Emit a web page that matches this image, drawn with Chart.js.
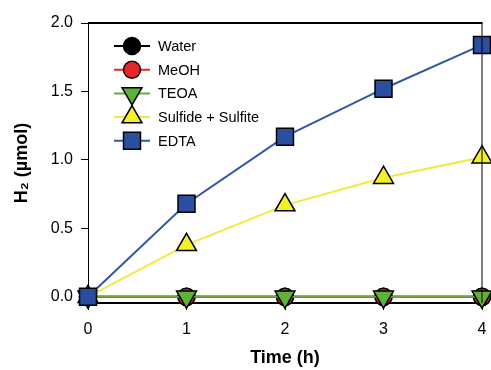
<!DOCTYPE html>
<html>
<head>
<meta charset="utf-8">
<script src="https://cdn.jsdelivr.net/npm/chart.js@4.4.0/dist/chart.umd.min.js"></script>
<style>
    html, body { margin: 0; padding: 0; background: #fff; }
    #wrap { width: 491px; height: 370px; }
</style>
</head>
<body>
<div id="wrap"><canvas id="h2Chart" width="491" height="370"></canvas></div>
<script>
// Data
const hours = [0, 1, 2, 3, 4];
const water = [0, 0, 0, 0, 0];
const meoh = [0, 0, 0, 0, 0];
const teoa = [0, 0, 0, 0, 0];
const sulfide = [0, 0.38, 0.67, 0.87, 1.02];
const edta = [0, 0.68, 1.17, 1.52, 1.84];
const seriesNames = ['Water', 'MeOH', 'TEOA', 'Sulfide + Sulfite', 'EDTA'];
const yTicks = [0, 0.5, 1.0, 1.5, 2.0];

function toPoints(values) {
    return hours.map((h, i) => ({ x: h, y: values[i] }));
}

function makeSet(label, values, lineColor, fill, style, radius, rotation, order) {
    return {
        label: label,
        data: toPoints(values),
        borderColor: lineColor,
        backgroundColor: fill,
        borderWidth: 2,
        pointStyle: style,
        pointRadius: radius,
        pointRotation: rotation,
        pointBackgroundColor: fill,
        pointBorderColor: '#000',
        pointBorderWidth: 1.5,
        tension: 0,
        clip: false,
        order: order
    };
}

const datasets = [
    makeSet(seriesNames[0], water, '#000000', '#000000', 'circle', 8.5, 0, 5),
    makeSet(seriesNames[1], meoh, '#e8262a', '#e8262a', 'circle', 8.5, 0, 4),
    makeSet(seriesNames[2], teoa, '#6aa83a', '#5cb338', 'triangle', 11.5, 180, 3),
    makeSet(seriesNames[3], sulfide, '#f2ea3c', '#f5ef2a', 'triangle', 11.5, 0, 2),
    makeSet(seriesNames[4], edta, '#3456a8', '#2b4ea0', 'rect', 12, 0, 1)
];

// Legend drawn inside the plot area, top left
const insideLegend = {
    id: 'insideLegend',
    afterDatasetsDraw(chart) {
        const ctx = chart.ctx;
        const area = chart.chartArea;
        ctx.save();
        chart.data.datasets.forEach((ds, i) => {
            const y = area.top + 23 + i * 23.7;
            const x0 = area.left + 26;
            const x1 = area.left + 62;
            ctx.strokeStyle = ds.borderColor;
            ctx.lineWidth = 2;
            ctx.beginPath();
            ctx.moveTo(x0, y);
            ctx.lineTo(x1, y);
            ctx.stroke();
            ctx.fillStyle = ds.pointBackgroundColor;
            ctx.strokeStyle = '#000';
            ctx.lineWidth = ds.pointBorderWidth;
            Chart.helpers.drawPoint(ctx, {
                pointStyle: ds.pointStyle,
                rotation: ds.pointRotation,
                radius: ds.pointRadius,
                borderWidth: ds.pointBorderWidth
            }, (x0 + x1) / 2, y);
            ctx.fillStyle = '#000';
            ctx.font = '14.5px "Liberation Sans", Arial, sans-serif';
            ctx.textBaseline = 'middle';
            ctx.textAlign = 'left';
            ctx.fillText(ds.label, area.left + 70, y + 1);
        });
        ctx.restore();
    }
};

// Top and right frame lines (drawn over the markers, like the original)
const frame = {
    id: 'frame',
    afterDatasetsDraw(chart) {
        const ctx = chart.ctx;
        const a = chart.chartArea;
        ctx.save();
        ctx.strokeStyle = '#000';
        ctx.lineWidth = 2;
        ctx.beginPath();
        ctx.moveTo(a.left, a.top);
        ctx.lineTo(a.right + 0.5, a.top);
        ctx.stroke();
        ctx.lineWidth = 1;
        ctx.beginPath();
        ctx.moveTo(a.right, a.top);
        ctx.lineTo(a.right, a.bottom);
        ctx.stroke();
        ctx.restore();
    }
};

const tickFont = { family: '"Liberation Sans", Arial, sans-serif', size: 16 };
const titleFont = { family: '"Liberation Sans", Arial, sans-serif', size: 18, weight: 'bold' };

new Chart(document.getElementById('h2Chart'), {
    type: 'line',
    data: { datasets: datasets },
    options: {
        responsive: false,
        animation: false,
        layout: { autoPadding: false, padding: { left: 0, right: 9, top: 23, bottom: 0 } },
        plugins: {
            legend: { display: false },
            tooltip: { enabled: false }
        },
        scales: {
            x: {
                type: 'linear',
                min: 0,
                max: 4,
                afterFit(scale) {
                    scale.height = 67;
                    scale.paddingLeft = 0;
                    scale.paddingRight = 0;
                },
                border: { color: '#000', width: 2 },
                grid: { drawOnChartArea: false, drawTicks: true, tickLength: 7, tickColor: '#000' },
                ticks: { stepSize: 1, color: '#000', font: tickFont, padding: 10 },
                title: { display: true, text: 'Time (h)', color: '#000', font: titleFont, padding: { top: 0, bottom: 1 } }
            },
            y: {
                type: 'linear',
                min: -0.045,
                max: 2,
                afterFit(scale) {
                    scale.width = 88;
                    scale.paddingTop = 0;
                    scale.paddingBottom = 0;
                },
                afterBuildTicks(scale) {
                    scale.ticks = yTicks.map(v => ({ value: v }));
                },
                border: { color: '#000', width: 1 },
                grid: { drawOnChartArea: false, drawTicks: true, tickLength: 7, tickColor: '#000' },
                ticks: {
                    color: '#000',
                    font: tickFont,
                    padding: 8,
                    callback: v => v.toFixed(1)
                },
                title: { display: true, text: 'H\u2082 (\u00b5mol)', color: '#000', font: titleFont, padding: { top: 11, bottom: 0 } }
            }
        }
    },
    plugins: [frame, insideLegend]
});
</script>
</body>
</html>
